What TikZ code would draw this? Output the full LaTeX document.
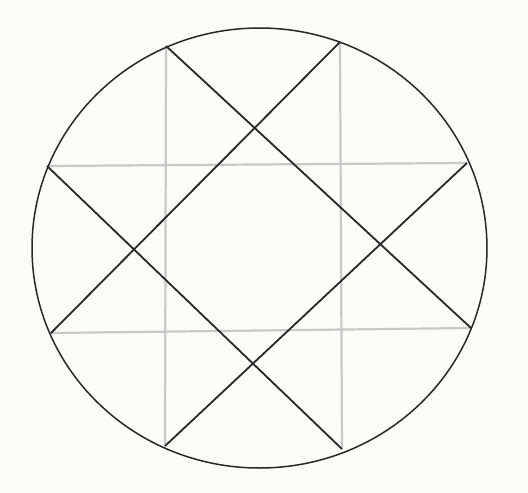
\documentclass[tikz,border=0pt]{standalone}
\usetikzlibrary{calc}
\definecolor{paperbg}{RGB}{253, 251, 248}
\definecolor{gridgray}{RGB}{200, 200, 200}
\definecolor{inkdark}{RGB}{40, 40, 40}

\begin{document}
\begin{tikzpicture}[
    x=1pt, y=-1pt,
    rim/.style={draw=inkdark, line width=1.5pt},
    gridline/.style={draw=gridgray, line width=2.2pt},
    starline/.style={draw=inkdark, line width=1.8pt},
]

% -- Canvas
\useasboundingbox (0,0) rectangle (528,493);
\fill[paperbg] (0,0) rectangle (528,493);

% -- Points on the rim
\coordinate (ptl) at (166, 46);
\coordinate (ptr) at (340, 42);
\coordinate (prt) at (467, 163);
\coordinate (prb) at (471, 328);
\coordinate (pbr) at (342, 449);
\coordinate (pbl) at (165, 446);
\coordinate (plb) at (51, 333);
\coordinate (plt) at (47, 166);

% -- Gray grid lines
\draw[gridline] (ptl) -- (pbl);
\draw[gridline] (ptr) -- (pbr);
\draw[gridline] (plt) -- (prt);
\draw[gridline] (plb) -- (prb);

% -- Black star lines
\draw[starline] (ptl) -- (prb);
\draw[starline] (ptr) -- (plb);
\draw[starline] (plt) -- (pbr);
\draw[starline] (prt) -- (pbl);

% -- Rim
\draw[rim] (259.5, 248) ellipse [x radius=227.5, y radius=220];

\end{tikzpicture}
\end{document}
